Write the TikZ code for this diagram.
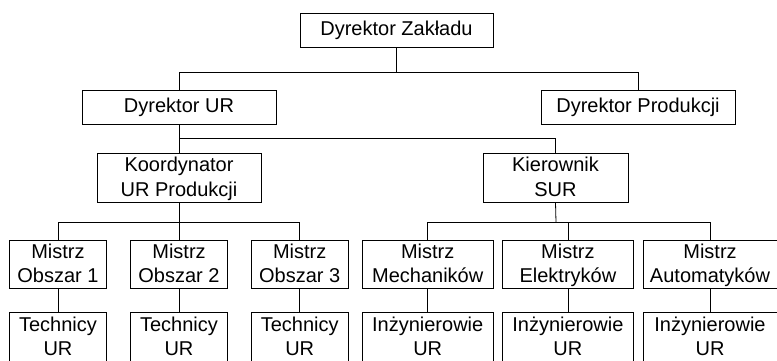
\documentclass[tikz,border=0pt]{standalone}
\usepackage{fontspec}
\setmainfont{Liberation Sans}
\begin{document}
\begin{tikzpicture}[x=1pt,y=-1pt,
  box/.style={draw, line width=0.8pt, inner sep=0pt, align=center,
    font=\fontsize{20}{24.4}\selectfont},
  onebox/.style={box, text height=14.3pt, text depth=3pt},
  twobox/.style={box, text height=39pt, text depth=2pt},
  conn/.style={line width=0.8pt}]
\useasboundingbox (0,0) rectangle (777,361);
% level 1
\node[onebox, minimum width=193pt, minimum height=34pt] (dz) at (396.5,30) {Dyrektor Zakładu};
% level 2
\node[onebox, minimum width=194pt, minimum height=34pt] (dur) at (179,107) {Dyrektor UR};
\node[onebox, minimum width=194pt, minimum height=34pt] (dp) at (638,107) {Dyrektor Produkcji};
% level 3
\node[twobox, minimum width=164pt, minimum height=49pt] (koord) at (179,177.5) {Koordynator\\UR Produkcji};
\node[twobox, minimum width=145pt, minimum height=49pt] (kier) at (555.5,177.5) {Kierownik\\SUR};
% level 4
\node[twobox, minimum width=97.4pt, minimum height=48.7pt] (m1) at (58,264.3) {Mistrz\\Obszar 1};
\node[twobox, minimum width=96.6pt, minimum height=48.7pt] (m2) at (179,264.3) {Mistrz\\Obszar 2};
\node[twobox, minimum width=97.3pt, minimum height=48.7pt] (m3) at (299.7,264.3) {Mistrz\\Obszar 3};
\node[twobox, minimum width=130.7pt, minimum height=48.7pt] (mm) at (427.7,264.3) {Mistrz\\Mechaników};
\node[twobox, minimum width=130.3pt, minimum height=48.7pt] (me) at (567.9,264.3) {Mistrz\\Elektryków};
\node[twobox, minimum width=134pt, minimum height=48.7pt] (ma) at (710,264.3) {Mistrz\\Automatyków};
% level 5
\node[twobox, minimum width=97.4pt, minimum height=49pt] (t1) at (58,337.2) {Technicy\\UR};
\node[twobox, minimum width=96.6pt, minimum height=49pt] (t2) at (179,337.2) {Technicy\\UR};
\node[twobox, minimum width=97.3pt, minimum height=49pt] (t3) at (299.7,337.2) {Technicy\\UR};
\node[twobox, minimum width=130.7pt, minimum height=49pt] (i1) at (427.7,337.2) {Inżynierowie\\UR};
\node[twobox, minimum width=130.3pt, minimum height=49pt] (i2) at (567.9,337.2) {Inżynierowie\\UR};
\node[twobox, minimum width=134pt, minimum height=49pt] (i3) at (710,337.2) {Inżynierowie\\UR};
% bus coordinates
\coordinate (b1) at (396.5,72);
\coordinate (b2) at (179,138.3);
\coordinate (b3) at (179,222.3);
\coordinate (b4) at (556,222.3);
% connectors
\draw[conn] (dz.south) -- (b1);
\draw[conn] (dur.north) -- (dur.north |- b1) -| (dp.north);
\draw[conn] (dur.south) -- (b2);
\draw[conn] (koord.north) -- (koord.north |- b2) -| (kier.north);
\draw[conn] (koord.south) -- (b3);
\draw[conn] (m1.north) -- (m1.north |- b3) -| (m3.north);
\draw[conn] (m2.north) -- (m2.north |- b3);
\draw[conn] (kier.south) -- (b4);
\draw[conn] (mm.north) -- (mm.north |- b4) -| (ma.north);
\draw[conn] (me.north) -- (me.north |- b4);
\draw[conn] (m1.south) -- (t1.north);
\draw[conn] (m2.south) -- (t2.north);
\draw[conn] (m3.south) -- (t3.north);
\draw[conn] (mm.south) -- (i1.north);
\draw[conn] (me.south) -- (i2.north);
\draw[conn] (ma.south) -- (i3.north);
\end{tikzpicture}
\end{document}
